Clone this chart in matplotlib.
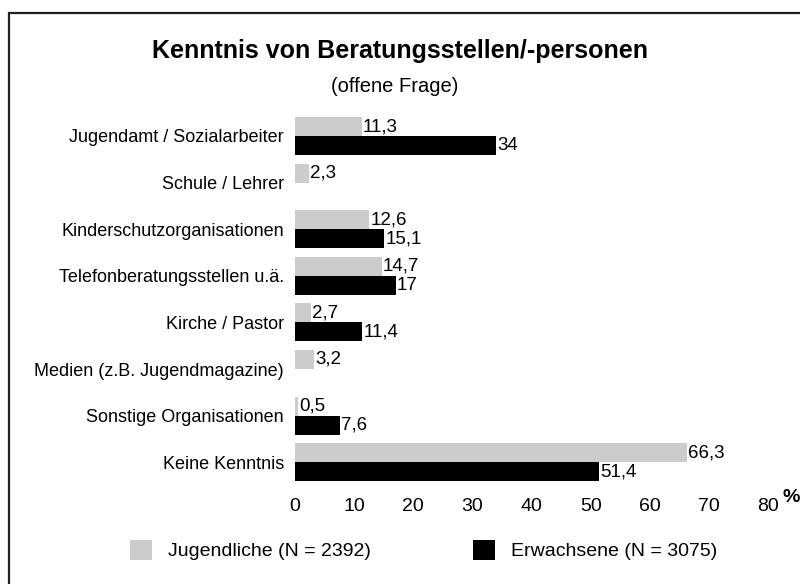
import numpy as np
import matplotlib
matplotlib.use("Agg")
import matplotlib.pyplot as plt
from matplotlib.patches import Patch, Rectangle

plt.rcParams["font.family"] = ["Liberation Sans", "DejaVu Sans"]

# ----------------------------------------------------------------------------
# Data (percent, German decimal comma in labels)
# ----------------------------------------------------------------------------
CATEGORIES = ["Jugendamt / Sozialarbeiter", "Schule / Lehrer",
              "Kinderschutzorganisationen", "Telefonberatungsstellen u.ä.",
              "Kirche / Pastor", "Medien (z.B. Jugendmagazine)",
              "Sonstige Organisationen", "Keine Kenntnis"]
JUGENDLICHE = [11.3, 2.3, 12.6, 14.7, 2.7, 3.2, 0.5, 66.3]
ERWACHSENE = [34, np.nan, 15.1, 17, 11.4, np.nan, 7.6, 51.4]
XTICKS = [0, 10, 20, 30, 40, 50, 60, 70, 80]
LABEL_J = "Jugendliche (N = 2392)"
LABEL_E = "Erwachsene (N = 3075)"

GREY = "#cccccc"
W, H = 800, 584
FS = 13                                      # base text size


def fmt(v):
    return f"{v:g}".replace(".", ",")


fig = plt.figure(figsize=(W / 100, H / 100), dpi=100)

# outer frame (runs off the right / bottom edge like the scan)
fig.patches.append(Rectangle((9 / W, -0.05), 1.1, 1 - 13 / H + 0.05,
                             transform=fig.transFigure, fill=False,
                             edgecolor="#222222", linewidth=1.6))

fig.text(400 / W, 1 - 51 / H, "Kenntnis von Beratungsstellen/-personen",
         fontsize=18, fontweight="bold", ha="center", va="center")
fig.text(395 / W, 1 - 87 / H, "(offene Frage)", fontsize=14.5,
         ha="center", va="center")

# axes: x 0..80 -> px 295..768 ; group centres 136 + 46.6*i
top_px, bot_px = 136 - 23.3, 136 + 46.6 * 7 + 23.3
ax = fig.add_axes([295 / W, 1 - bot_px / H, 473 / W, (bot_px - top_px) / H])

y = np.arange(len(CATEGORIES))
h = 19 / 46.6
ax.barh(y - h / 2, JUGENDLICHE, height=h, color=GREY, label=LABEL_J)
ax.barh(y + h / 2, ERWACHSENE, height=h, color="black", label=LABEL_E)

for i, (vj, ve) in enumerate(zip(JUGENDLICHE, ERWACHSENE)):
    ax.text(vj + 0.2, i - h / 2, fmt(vj), va="center", ha="left", fontsize=13.5)
    if not np.isnan(ve):
        ax.text(ve + 0.2, i + h / 2, fmt(ve), va="center", ha="left",
                fontsize=13.5)

ax.set_xlim(0, 80)
ax.set_ylim(len(CATEGORIES) - 0.5, -0.5)
ax.set_yticks(y)
ax.set_yticklabels(CATEGORIES, fontsize=FS)
ax.set_xticks(XTICKS)
ax.set_xticklabels([str(t) for t in XTICKS], fontsize=14)
ax.tick_params(axis="both", length=0)
ax.tick_params(axis="y", pad=8)
ax.tick_params(axis="x", pad=9)
for sp in ax.spines.values():
    sp.set_visible(False)

fig.text(791 / W, 1 - 498 / H, "%", fontsize=14, fontweight="bold",
         ha="center", va="center")

handles = [Patch(facecolor=GREY, label=LABEL_J),
           Patch(facecolor="black", label=LABEL_E)]
fig.legend(handles=handles, loc="center left", bbox_to_anchor=(130 / W, 1 - 550 / H),
           ncol=2, frameon=False, fontsize=14, handlelength=1.13,
           handleheight=1.24, handletextpad=0.8, columnspacing=5.3,
           borderpad=0, borderaxespad=0)

fig.savefig("out.png", dpi=100)
